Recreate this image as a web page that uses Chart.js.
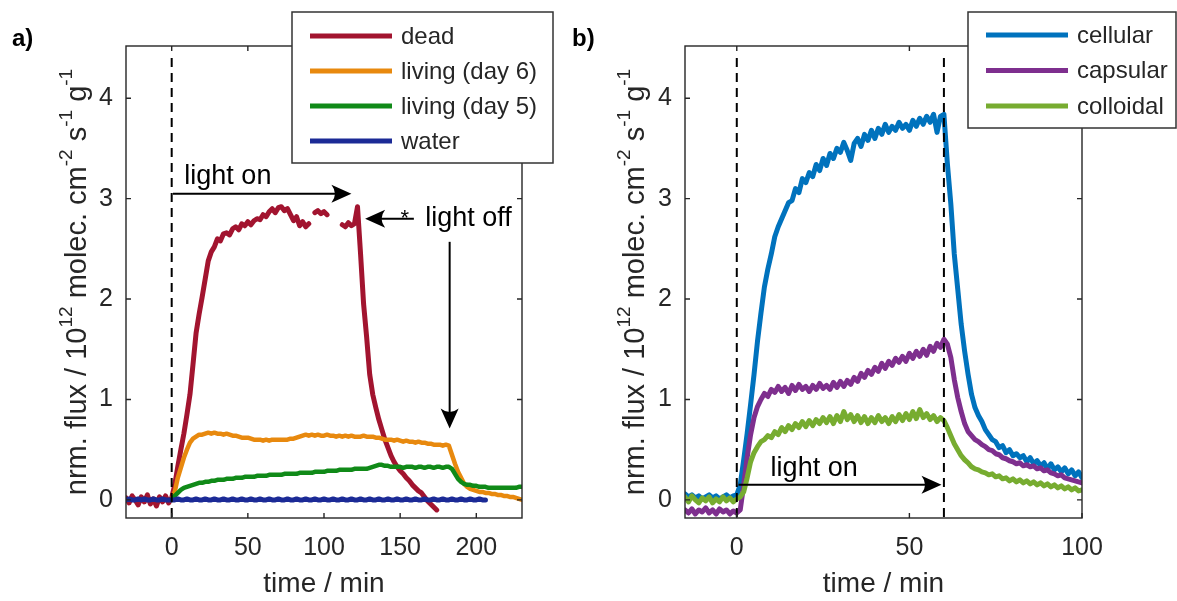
<!DOCTYPE html>
<html>
<head>
<meta charset="utf-8">
<script src="https://cdn.jsdelivr.net/npm/chart.js@4.4.1/dist/chart.umd.min.js"></script>
<style>
html, body { margin: 0; padding: 0; background: #fff; }
#wrap { position: relative; width: 1177px; height: 601px; }
canvas { position: absolute; left: 0; top: 0; }
</style>
</head>
<body>
<div id="wrap">
<canvas id="chartA" width="1177" height="601"></canvas>
<canvas id="chartB" width="1177" height="601"></canvas>
</div>
<script>
// ---- panel a data (time in min, flux normalised) ----
const timeA = [
  -30,-28,-26,-24,-22,-20,-18,-16,-14,-12,-10,-8,-6,-4,-2,
  0,2,4,6,8,10,12,14,16,18,
  20,22,24,26,28,30,32,34,36,38,
  40,42,44,46,48,50,52,54,56,58,
  60,62,64,66,68,70,72,74,76,78,
  80,82,84,86,88,90,92,94,96,98,
  100,102,104,106,108,110,112,114,116,118,
  120,122,124,126,128,130,132,134,136,138,
  140,142,144,146,148,150,152,154,156,158,
  160,162,164,166,168,170,172,174,176,178,
  180,182,184,186,188,190,192,194,196,198,
  200,202,204,206,208,210,212,214,216,218,
  220,222,224,226,228,230
];
const dead = [
  0.02,-0.03,0.04,0.00,-0.05,0.03,-0.02,0.05,-0.04,0.01,-0.06,0.03,-0.02,0.04,-0.03,
  0.02,0.15,0.33,0.50,0.66,0.85,1.05,1.35,1.66,1.85,
  2.02,2.20,2.38,2.47,2.52,2.60,2.58,2.65,2.66,2.64,
  2.70,2.72,2.69,2.75,2.73,2.77,2.74,2.78,2.80,2.79,
  2.84,2.82,2.87,2.90,2.86,2.91,2.92,2.88,2.90,2.84,
  2.78,2.82,2.73,2.77,2.72,2.75,null,2.86,2.88,2.85,
  2.87,2.84,null,null,null,null,2.74,2.72,2.76,2.73,
  2.75,2.92,2.45,1.95,1.62,1.25,1.05,0.92,0.80,0.70,
  0.60,0.52,0.44,0.38,0.33,0.29,0.26,0.22,0.19,0.15,
  0.12,0.09,0.07,0.03,-0.01,-0.04,-0.07,-0.10,null,null,
  null,null,null,null,null,null,null,null,null,null,
  null,null,null,null,null,null,null,null,null,null,
  null,null,null,null,null,null
];
const living6 = [
  null,null,null,null,null,null,null,null,null,null,null,null,null,null,null,
  0.00,0.08,0.22,0.32,0.42,0.50,0.57,0.61,0.63,0.65,
  0.65,0.66,0.67,0.66,0.67,0.66,0.66,0.65,0.66,0.65,
  0.64,0.64,0.63,0.62,0.62,0.62,0.61,0.60,0.60,0.60,
  0.59,0.60,0.59,0.60,0.60,0.60,0.60,0.60,0.60,0.61,
  0.61,0.62,0.63,0.64,0.65,0.64,0.65,0.64,0.65,0.64,
  0.64,0.65,0.64,0.64,0.63,0.64,0.63,0.64,0.63,0.64,
  0.63,0.63,0.63,0.64,0.63,0.63,0.63,0.62,0.62,0.61,
  0.60,0.60,0.60,0.59,0.60,0.59,0.58,0.59,0.58,0.58,
  0.57,0.58,0.57,0.57,0.56,0.56,0.55,0.55,0.55,0.54,
  0.55,0.54,0.45,0.36,0.28,0.22,0.16,0.13,0.11,0.10,
  0.09,0.08,0.08,0.07,0.07,0.06,0.06,0.05,0.05,0.04,
  0.04,0.03,0.03,0.02,0.01,0.00
];
const living5 = [
  null,null,null,null,null,null,null,null,null,null,null,null,null,null,null,
  0.00,0.04,0.07,0.10,0.12,0.13,0.14,0.15,0.16,0.17,
  0.17,0.18,0.18,0.19,0.19,0.20,0.20,0.20,0.21,0.21,
  0.21,0.22,0.22,0.22,0.23,0.23,0.23,0.23,0.24,0.24,
  0.24,0.24,0.25,0.25,0.25,0.25,0.25,0.26,0.26,0.26,
  0.26,0.26,0.27,0.27,0.27,0.27,0.27,0.28,0.28,0.28,
  0.28,0.29,0.29,0.29,0.29,0.30,0.30,0.30,0.30,0.30,
  0.31,0.31,0.31,0.31,0.31,0.32,0.33,0.34,0.35,0.35,
  0.34,0.34,0.33,0.33,0.33,0.33,0.32,0.33,0.33,0.33,
  0.32,0.33,0.33,0.32,0.33,0.33,0.32,0.33,0.33,0.32,
  0.33,0.33,0.31,0.26,0.21,0.18,0.16,0.15,0.15,0.14,
  0.14,0.13,0.13,0.13,0.12,0.12,0.12,0.12,0.12,0.12,
  0.12,0.12,0.12,0.12,0.13,0.13
];
const water = [
  0.00,0.01,0.00,0.00,0.01,0.00,0.01,0.00,0.00,0.01,0.00,0.00,0.01,0.00,0.00,
  0.00,0.00,0.01,0.00,0.00,0.01,0.00,0.00,0.01,0.00,
  0.00,0.01,0.00,0.00,0.01,0.00,0.00,0.01,0.00,0.00,
  0.01,0.00,0.00,0.01,0.00,0.00,0.01,0.00,0.00,0.01,
  0.00,0.00,0.01,0.00,0.00,0.01,0.00,0.00,0.01,0.00,
  0.00,0.01,0.00,0.00,0.01,0.00,0.00,0.01,0.00,0.00,
  0.01,0.00,0.00,0.01,0.00,0.00,0.01,0.00,0.00,0.01,
  0.00,0.00,0.01,0.00,0.00,0.01,0.00,0.00,0.01,0.00,
  0.00,0.01,0.00,0.00,0.01,0.00,0.00,0.01,0.00,0.00,
  0.01,0.00,0.00,0.01,0.00,0.00,0.01,0.00,0.00,0.01,
  0.00,0.00,0.01,0.00,0.00,0.01,0.00,0.00,0.01,0.00,
  0.00,0.01,0.00,0.00,null,null,null,null,null,null,
  null,null,null,null,null,null
];

// ---- panel b data ----
const timeB = [
  -15,-14,-13,-12,-11,-10,-9,-8,-7,-6,
  -5,-4,-3,-2,-1,0,1,2,3,4,
  5,6,7,8,9,10,11,12,13,14,
  15,16,17,18,19,20,21,22,23,24,
  25,26,27,28,29,30,31,32,33,34,
  35,36,37,38,39,40,41,42,43,44,
  45,46,47,48,49,50,51,52,53,54,
  55,56,57,58,59,60,61,62,63,64,
  65,66,67,68,69,70,71,72,73,74,
  75,76,77,78,79,80,81,82,83,84,
  85,86,87,88,89,90,91,92,93,94,
  95,96,97,98,99,100
];
const cellular = [
  0.06,0.03,0.05,0.02,0.04,0.01,0.03,0.05,0.02,0.04,
  0.01,0.03,0.05,0.02,0.04,0.05,0.15,0.40,0.66,0.95,
  1.25,1.58,1.86,2.12,2.30,2.45,2.62,2.72,2.80,2.88,
  2.96,2.98,3.10,3.06,3.20,3.16,3.26,3.22,3.34,3.28,
  3.40,3.33,3.45,3.40,3.50,3.46,3.56,3.48,3.38,3.55,
  3.60,3.52,3.64,3.58,3.68,3.60,3.70,3.64,3.74,3.66,
  3.72,3.68,3.76,3.70,3.74,3.68,3.78,3.72,3.80,3.74,
  3.82,3.76,3.84,3.66,3.82,3.84,3.35,2.95,2.45,2.10,
  1.75,1.48,1.25,1.05,0.92,0.84,0.78,0.70,0.65,0.60,
  0.58,0.52,0.54,0.47,0.50,0.44,0.46,0.42,0.44,0.38,
  0.42,0.36,0.39,0.34,0.37,0.31,0.36,0.30,0.33,0.28,
  0.32,0.26,0.30,0.24,0.28,0.22
];
const capsular = [
  -0.10,-0.13,-0.09,-0.14,-0.10,-0.12,-0.08,-0.13,-0.10,-0.14,
  -0.09,-0.12,-0.10,-0.14,-0.11,-0.13,-0.10,0.15,0.42,0.65,
  0.82,0.93,1.00,1.06,1.03,1.10,1.07,1.13,1.08,1.12,
  1.06,1.14,1.09,1.15,1.10,1.13,1.08,1.14,1.10,1.16,
  1.11,1.14,1.10,1.17,1.12,1.18,1.13,1.19,1.15,1.22,
  1.18,1.26,1.22,1.29,1.25,1.32,1.28,1.36,1.31,1.38,
  1.34,1.41,1.37,1.43,1.38,1.46,1.41,1.48,1.43,1.50,
  1.44,1.53,1.48,1.56,1.52,1.60,1.55,1.42,1.20,1.02,
  0.88,0.76,0.68,0.64,0.60,0.58,0.55,0.53,0.50,0.49,
  0.46,0.45,0.42,0.41,0.39,0.38,0.36,0.37,0.34,0.35,
  0.33,0.34,0.31,0.32,0.29,0.30,0.27,0.26,0.24,0.25,
  0.22,0.21,0.20,0.19,0.18,0.17
];
const colloidal = [
  0.03,-0.02,0.04,0.00,-0.03,0.02,-0.01,0.03,-0.03,0.01,
  -0.02,0.03,-0.01,0.02,-0.02,0.01,0.03,0.08,0.22,0.38,
  0.47,0.53,0.58,0.60,0.64,0.62,0.68,0.65,0.72,0.68,
  0.74,0.70,0.76,0.72,0.78,0.73,0.79,0.74,0.80,0.76,
  0.82,0.77,0.83,0.76,0.84,0.78,0.88,0.80,0.85,0.78,
  0.84,0.77,0.83,0.76,0.82,0.77,0.84,0.78,0.82,0.76,
  0.83,0.78,0.85,0.79,0.86,0.80,0.88,0.81,0.90,0.82,
  0.86,0.80,0.84,0.78,0.82,0.79,0.72,0.64,0.56,0.50,
  0.44,0.40,0.37,0.33,0.31,0.30,0.28,0.27,0.25,0.26,
  0.23,0.24,0.21,0.22,0.19,0.21,0.18,0.20,0.17,0.19,
  0.16,0.18,0.15,0.17,0.14,0.16,0.13,0.15,0.12,0.14,
  0.11,0.13,0.10,0.12,0.09,0.10
];

const FONT = '"Liberation Sans", Arial, Helvetica, sans-serif';
const INK = '#262626';
Chart.defaults.font.family = FONT;
Chart.defaults.color = INK;

function toPoints(times, vals) {
  return times.map((t, i) => ({ x: t, y: vals[i] }));
}

// annotations and decorations per panel (data coords where they sit on the plot)
const panels = {
  chartA: {
    tag: 'a)', tagX: 12,
    yTitleX: 86,
    marks: [0],
    arrows: [
      { from: [0.8, 3.05], to: [118, 3.05] },
      { from: [159, 2.80], to: [127, 2.80] },
      { from: [182.5, 2.57], to: [182.5, 0.71] }
    ],
    notes: [
      { text: 'light on', at: [8.3, 3.15], size: 27 },
      { text: '*', at: [153, 2.74], size: 22, align: 'center' },
      { text: 'light off', at: [166.5, 2.725], size: 27 }
    ],
    legend: { left: 292, top: 12, right: 553, bottom: 163, rows: [36, 71, 106, 141], line: [310, 392], textX: 401 }
  },
  chartB: {
    tag: 'b)', tagX: 572,
    yTitleX: 644,
    marks: [0, 60],
    arrows: [ { from: [0.5, 0.15], to: [59.3, 0.15] } ],
    notes: [ { text: 'light on', at: [9.8, 0.24], size: 27 } ],
    legend: { left: 968, top: 12, right: 1176, bottom: 128, rows: [35, 70.5, 106], line: [986, 1068], textX: 1077 }
  }
};

const yTitleRuns = [
  { t: 'nrm. flux / 10' }, { t: '12', sup: true },
  { t: ' molec. cm' }, { t: '-2', sup: true },
  { t: ' s' }, { t: '-1', sup: true },
  { t: ' g' }, { t: '-1', sup: true }
];

function drawArrow(ctx, x0, y0, x1, y1) {
  const ang = Math.atan2(y1 - y0, x1 - x0);
  const len = 20, half = 9, notch = 12;
  ctx.beginPath();
  ctx.moveTo(x0, y0);
  ctx.lineTo(x1 - Math.cos(ang) * notch, y1 - Math.sin(ang) * notch);
  ctx.stroke();
  ctx.save();
  ctx.translate(x1, y1);
  ctx.rotate(ang);
  ctx.beginPath();
  ctx.moveTo(0, 0);
  ctx.lineTo(-len, -half);
  ctx.quadraticCurveTo(-notch - 1, 0, -len, half);
  ctx.closePath();
  ctx.fill();
  ctx.restore();
}

const decorPlugin = {
  id: 'decor',
  afterDatasetsDraw(chart) {
    const p = panels[chart.canvas.id];
    const { ctx, chartArea: a, scales: { x, y } } = chart;
    ctx.save();
    // dashed light on/off markers
    ctx.strokeStyle = '#000';
    ctx.lineWidth = 2;
    ctx.setLineDash([9, 6]);
    p.marks.forEach(t => {
      const px = x.getPixelForValue(t);
      ctx.beginPath();
      ctx.moveTo(px, y.getPixelForValue(4.4));
      ctx.lineTo(px, a.bottom);
      ctx.stroke();
    });
    ctx.setLineDash([]);
    ctx.fillStyle = '#000';
    p.arrows.forEach(ar => drawArrow(ctx,
      x.getPixelForValue(ar.from[0]), y.getPixelForValue(ar.from[1]),
      x.getPixelForValue(ar.to[0]), y.getPixelForValue(ar.to[1])));
    p.notes.forEach(n => {
      ctx.font = n.size + 'px ' + FONT;
      ctx.textAlign = n.align || 'left';
      ctx.textBaseline = 'alphabetic';
      ctx.fillText(n.text, x.getPixelForValue(n.at[0]), y.getPixelForValue(n.at[1]));
    });
    // axes box with inward ticks
    ctx.strokeStyle = INK;
    ctx.lineWidth = 1.4;
    ctx.strokeRect(a.left, a.top, a.right - a.left, a.bottom - a.top);
    ctx.beginPath();
    x.ticks.forEach(tk => {
      const px = x.getPixelForValue(tk.value);
      ctx.moveTo(px, a.bottom); ctx.lineTo(px, a.bottom - 5);
      ctx.moveTo(px, a.top); ctx.lineTo(px, a.top + 5);
    });
    y.ticks.forEach(tk => {
      const py = y.getPixelForValue(tk.value);
      ctx.moveTo(a.left, py); ctx.lineTo(a.left + 5, py);
      ctx.moveTo(a.right, py); ctx.lineTo(a.right - 5, py);
    });
    ctx.stroke();
    ctx.restore();
  },
  afterDraw(chart) {
    const p = panels[chart.canvas.id];
    const { ctx, chartArea: a } = chart;
    ctx.save();
    // y axis title with superscripts
    const big = '29px ' + FONT, small = '19px ' + FONT;
    let total = 0;
    const widths = yTitleRuns.map(r => {
      ctx.font = r.sup ? small : big;
      const w = ctx.measureText(r.t).width;
      total += w;
      return w;
    });
    ctx.translate(p.yTitleX, (a.top + a.bottom) / 2);
    ctx.rotate(-Math.PI / 2);
    ctx.fillStyle = INK;
    ctx.textAlign = 'left';
    ctx.textBaseline = 'alphabetic';
    let cx = -total / 2;
    yTitleRuns.forEach((r, i) => {
      ctx.font = r.sup ? small : big;
      ctx.fillText(r.t, cx, r.sup ? -14 : 0);
      cx += widths[i];
    });
    ctx.restore();
    ctx.save();
    // panel tag
    ctx.fillStyle = '#000';
    ctx.font = 'bold 24px ' + FONT;
    ctx.textBaseline = 'alphabetic';
    ctx.fillText(p.tag, p.tagX, 46);
    // legend
    const L = p.legend;
    ctx.fillStyle = '#fff';
    ctx.fillRect(L.left, L.top, L.right - L.left, L.bottom - L.top);
    ctx.strokeStyle = '#333';
    ctx.lineWidth = 1.5;
    ctx.strokeRect(L.left, L.top, L.right - L.left, L.bottom - L.top);
    ctx.font = '24px ' + FONT;
    ctx.textBaseline = 'middle';
    chart.data.datasets.forEach((ds, i) => {
      const ry = L.rows[i];
      ctx.strokeStyle = ds.borderColor;
      ctx.lineWidth = 5;
      ctx.beginPath();
      ctx.moveTo(L.line[0], ry);
      ctx.lineTo(L.line[1], ry);
      ctx.stroke();
      ctx.fillStyle = INK;
      ctx.fillText(ds.label, L.textX, ry + 1);
    });
    ctx.restore();
  }
};

function axes(xmin, xmax) {
  return {
    x: {
      type: 'linear', min: xmin, max: xmax,
      grid: { display: false, drawTicks: false },
      border: { display: false },
      ticks: { stepSize: 50, includeBounds: false, padding: 15, maxRotation: 0, font: { size: 25 }, color: INK },
      title: { display: true, text: 'time / min', font: { size: 28 }, color: INK, padding: 0 },
      afterFit(s) { s.height = 83; }
    },
    y: {
      type: 'linear', min: -0.18, max: 4.52,
      grid: { display: false, drawTicks: false },
      border: { display: false },
      ticks: { stepSize: 1, includeBounds: false, padding: 13, font: { size: 25 }, color: INK },
      afterFit(s) { s.width = 126; }
    }
  };
}

function lineSet(label, times, vals, color, order, width) {
  return {
    label, data: toPoints(times, vals), borderColor: color, backgroundColor: color,
    borderWidth: width, borderJoinStyle: 'round', borderCapStyle: 'round',
    pointRadius: 0, tension: 0, spanGaps: false, order
  };
}

new Chart(document.getElementById('chartA'), {
  type: 'line',
  data: {
    datasets: [
      lineSet('dead', timeA, dead, '#A2142F', 3, 5),
      lineSet('living (day 6)', timeA, living6, '#E8890E', 2, 4.5),
      lineSet('living (day 5)', timeA, living5, '#108A18', 1, 4.5),
      lineSet('water', timeA, water, '#1B2A96', 0, 5)
    ]
  },
  options: {
    responsive: false, animation: false, events: [],
    layout: { padding: { left: 0, right: 655, top: 46, bottom: 0 } },
    plugins: { legend: { display: false }, tooltip: { enabled: false } },
    scales: axes(-30, 230)
  },
  plugins: [decorPlugin]
});

new Chart(document.getElementById('chartB'), {
  type: 'line',
  data: {
    datasets: [
      lineSet('cellular', timeB, cellular, '#0072BD', 2, 5),
      lineSet('capsular', timeB, capsular, '#7E2F8E', 1, 5),
      lineSet('colloidal', timeB, colloidal, '#77AC30', 0, 5)
    ]
  },
  options: {
    responsive: false, animation: false, events: [],
    layout: { padding: { left: 559, right: 95, top: 46, bottom: 0 } },
    plugins: { legend: { display: false }, tooltip: { enabled: false } },
    scales: axes(-15, 100)
  },
  plugins: [decorPlugin]
});
</script>
</body>
</html>
